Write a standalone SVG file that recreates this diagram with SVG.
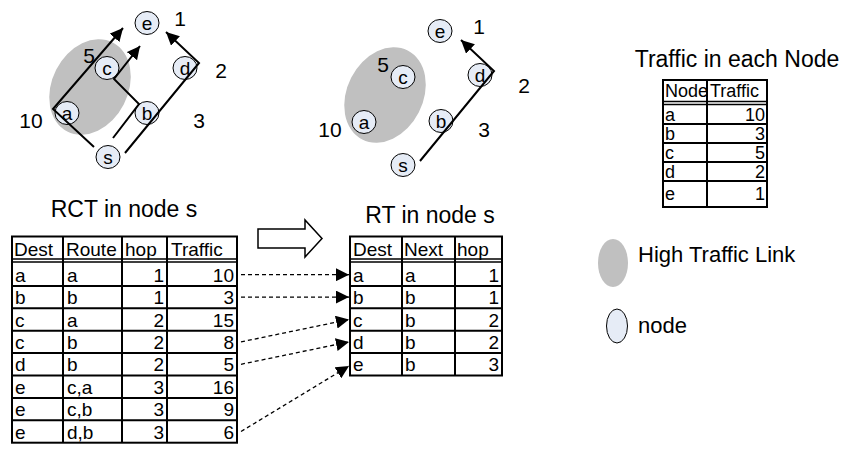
<svg xmlns="http://www.w3.org/2000/svg" width="848" height="452" viewBox="0 0 848 452">
<style>
text{font-family:"Liberation Sans",Arial,sans-serif;fill:#000}
.t{font-size:23px}
.lbl{font-size:21px;text-anchor:middle}
.nd{font-size:19px;text-anchor:middle}
.tb{font-size:19px}
.tt{font-size:18px}
.r{text-anchor:end}
.node{fill:#e6ecf6;stroke:#000;stroke-width:1}
.hot{fill:#c0c0c0}
.ln{fill:none;stroke:#000;stroke-width:2}
.grid{fill:none;stroke:#000;stroke-width:2}
.dbl{fill:none;stroke:#000;stroke-width:1.5}
.dash{fill:none;stroke:#000;stroke-width:1.3;stroke-dasharray:4 3}
</style>
<defs>
<marker id="ah" markerUnits="userSpaceOnUse" markerWidth="14" markerHeight="13" refX="13" refY="6.5" orient="auto">
<path d="M0,0 L13,6.5 L0,13 z" fill="#000"/>
</marker>
</defs>

<!-- Graph 1 -->
<g id="graph1">
<ellipse id="g1-hot" class="hot" cx="90" cy="87" rx="38" ry="50" transform="rotate(27 90 87)"/>
<g id="g1-e"><ellipse class="node" cx="147" cy="23" rx="12" ry="11.5"/><text class="nd" x="147" y="29.5">e</text></g>
<g id="g1-c"><ellipse class="node" cx="107" cy="68" rx="12" ry="11.5"/><text class="nd" x="107" y="74.5">c</text></g>
<g id="g1-d"><ellipse class="node" cx="185" cy="68" rx="12" ry="11.5"/><text class="nd" x="185" y="74.5">d</text></g>
<g id="g1-a"><ellipse class="node" cx="67" cy="113" rx="12" ry="11.5"/><text class="nd" x="67" y="119.5">a</text></g>
<g id="g1-b"><ellipse class="node" cx="147" cy="113" rx="12" ry="11.5"/><text class="nd" x="147" y="119.5">b</text></g>
<g id="g1-s"><ellipse class="node" cx="108" cy="157" rx="12" ry="11.5"/><text class="nd" x="108" y="163.5">s</text></g>
<g id="g1-labels">
<text class="lbl" x="180" y="26">1</text>
<text class="lbl" x="89" y="63">5</text>
<text class="lbl" x="221" y="78">2</text>
<text class="lbl" x="31" y="128">10</text>
<text class="lbl" x="199" y="128">3</text>
</g>
</g>

<!-- Graph 2 -->
<g id="graph2">
<ellipse id="g2-hot" class="hot" cx="385" cy="95" rx="38" ry="50" transform="rotate(27 385 95)"/>
<g id="g2-e"><ellipse class="node" cx="440" cy="31" rx="12" ry="11.5"/><text class="nd" x="440" y="37.5">e</text></g>
<g id="g2-c"><ellipse class="node" cx="403" cy="77" rx="12" ry="11.5"/><text class="nd" x="403" y="83.5">c</text></g>
<g id="g2-d"><ellipse class="node" cx="480" cy="75" rx="12" ry="11.5"/><text class="nd" x="480" y="81.5">d</text></g>
<g id="g2-a"><ellipse class="node" cx="364" cy="122" rx="12" ry="11.5"/><text class="nd" x="364" y="128.5">a</text></g>
<g id="g2-b"><ellipse class="node" cx="441" cy="121" rx="12" ry="11.5"/><text class="nd" x="441" y="127.5">b</text></g>
<g id="g2-s"><ellipse class="node" cx="403" cy="165" rx="12" ry="11.5"/><text class="nd" x="403" y="171.5">s</text></g>
<g id="g2-labels">
<text class="lbl" x="479" y="34">1</text>
<text class="lbl" x="383" y="72">5</text>
<text class="lbl" x="524" y="93">2</text>
<text class="lbl" x="330" y="137">10</text>
<text class="lbl" x="484" y="137">3</text>
</g>
</g>

<!-- Connectors -->
<g id="connectors">
<path class="ln" d="M94,147 L53,109 L123,28" marker-end="url(#ah)"/>
<path class="ln" d="M113,138 L139,104 L114,79 L140,46" marker-end="url(#ah)"/>
<path class="ln" d="M125,153 L199,63 L166,32" marker-end="url(#ah)"/>
<path class="ln" d="M420,161 L494,71 L461,40" marker-end="url(#ah)"/>
<path class="dash" d="M241,274.7 L349,274.7" marker-end="url(#ah)"/>
<path class="dash" d="M241,297.1 L349,297.1" marker-end="url(#ah)"/>
<path class="dash" d="M241,341.9 L349,319.5" marker-end="url(#ah)"/>
<path class="dash" d="M241,364.3 L349,341.9" marker-end="url(#ah)"/>
<path class="dash" d="M241,431.5 L349,366" marker-end="url(#ah)"/>
</g>

<!-- Traffic in each node -->
<g id="traffic-table">
<text class="t" x="737" y="67" text-anchor="middle">Traffic in each Node</text>
<rect class="grid" x="663" y="80" width="104" height="127"/>
<path class="grid" d="M707,80 V207 M663,124 H767 M663,143 H767 M663,162 H767 M663,181 H767"/>
<path class="dbl" d="M663,101.5 H767 M663,104.5 H767"/>
<text class="tt" x="665" y="97">Node</text><text class="tt" x="710" y="97">Traffic</text>
<text class="tt" x="665" y="121">a</text><text class="tt r" x="765" y="121">10</text>
<text class="tt" x="665" y="140">b</text><text class="tt r" x="765" y="140">3</text>
<text class="tt" x="665" y="159">c</text><text class="tt r" x="765" y="159">5</text>
<text class="tt" x="665" y="178">d</text><text class="tt r" x="765" y="178">2</text>
<text class="tt" x="665" y="200">e</text><text class="tt r" x="765" y="200">1</text>
</g>

<!-- RCT table -->
<g id="rct-table">
<text class="t" x="124" y="217" text-anchor="middle">RCT in node s</text>
<rect class="grid" x="12" y="236.5" width="225" height="206.2"/>
<path class="grid" d="M63,236.5 V442.7 M122,236.5 V442.7 M167,236.5 V442.7 M12,285.9 H237 M12,308.3 H237 M12,330.7 H237 M12,353.1 H237 M12,375.5 H237 M12,397.9 H237 M12,420.3 H237"/>
<path class="dbl" d="M12,259 H237 M12,262 H237"/>
<text class="tb" x="14" y="256">Dest</text><text class="tb" x="66" y="256">Route</text><text class="tb" x="125" y="256">hop</text><text class="tb" x="171" y="256">Traffic</text>
<text class="tb" x="15" y="281.7">a</text><text class="tb" x="67" y="281.7">a</text><text class="tb r" x="164" y="281.7">1</text><text class="tb r" x="234" y="281.7">10</text>
<text class="tb" x="15" y="304.1">b</text><text class="tb" x="67" y="304.1">b</text><text class="tb r" x="164" y="304.1">1</text><text class="tb r" x="234" y="304.1">3</text>
<text class="tb" x="15" y="326.5">c</text><text class="tb" x="67" y="326.5">a</text><text class="tb r" x="164" y="326.5">2</text><text class="tb r" x="234" y="326.5">15</text>
<text class="tb" x="15" y="348.9">c</text><text class="tb" x="67" y="348.9">b</text><text class="tb r" x="164" y="348.9">2</text><text class="tb r" x="234" y="348.9">8</text>
<text class="tb" x="15" y="371.3">d</text><text class="tb" x="67" y="371.3">b</text><text class="tb r" x="164" y="371.3">2</text><text class="tb r" x="234" y="371.3">5</text>
<text class="tb" x="15" y="393.7">e</text><text class="tb" x="67" y="393.7">c,a</text><text class="tb r" x="164" y="393.7">3</text><text class="tb r" x="234" y="393.7">16</text>
<text class="tb" x="15" y="416.1">e</text><text class="tb" x="67" y="416.1">c,b</text><text class="tb r" x="164" y="416.1">3</text><text class="tb r" x="234" y="416.1">9</text>
<text class="tb" x="15" y="438.5">e</text><text class="tb" x="67" y="438.5">d,b</text><text class="tb r" x="164" y="438.5">3</text><text class="tb r" x="234" y="438.5">6</text>
</g>

<!-- Block arrow -->
<g id="block-arrow">
<polygon points="258,229 305,229 305,220 322,238.5 305,257 305,248 258,248" fill="#fff" stroke="#000" stroke-width="1.5"/>
</g>

<!-- RT table -->
<g id="rt-table">
<text class="t" x="430" y="223" text-anchor="middle">RT in node s</text>
<rect class="grid" x="350" y="236.5" width="152" height="139"/>
<path class="grid" d="M402,236.5 V375.5 M455,236.5 V375.5 M350,285.9 H502 M350,308.3 H502 M350,330.7 H502 M350,353.1 H502"/>
<path class="dbl" d="M350,259 H502 M350,262 H502"/>
<text class="tb" x="353" y="256">Dest</text><text class="tb" x="404" y="256">Next</text><text class="tb" x="457" y="256">hop</text>
<text class="tb" x="353" y="281.7">a</text><text class="tb" x="405" y="281.7">a</text><text class="tb r" x="499" y="281.7">1</text>
<text class="tb" x="353" y="304.1">b</text><text class="tb" x="405" y="304.1">b</text><text class="tb r" x="499" y="304.1">1</text>
<text class="tb" x="353" y="326.5">c</text><text class="tb" x="405" y="326.5">b</text><text class="tb r" x="499" y="326.5">2</text>
<text class="tb" x="353" y="348.9">d</text><text class="tb" x="405" y="348.9">b</text><text class="tb r" x="499" y="348.9">2</text>
<text class="tb" x="353" y="371.3">e</text><text class="tb" x="405" y="371.3">b</text><text class="tb r" x="499" y="371.3">3</text>
</g>

<!-- Legend -->
<g id="legend">
<g id="legend-hot"><ellipse class="hot" cx="613" cy="263" rx="15" ry="24"/><text class="t" x="638" y="262" style="font-size:22px">High Traffic Link</text></g>
<g id="legend-node"><ellipse class="node" cx="617" cy="326" rx="10.5" ry="17"/><text class="t" x="638" y="333" style="font-size:22px">node</text></g>
</g>
</svg>
